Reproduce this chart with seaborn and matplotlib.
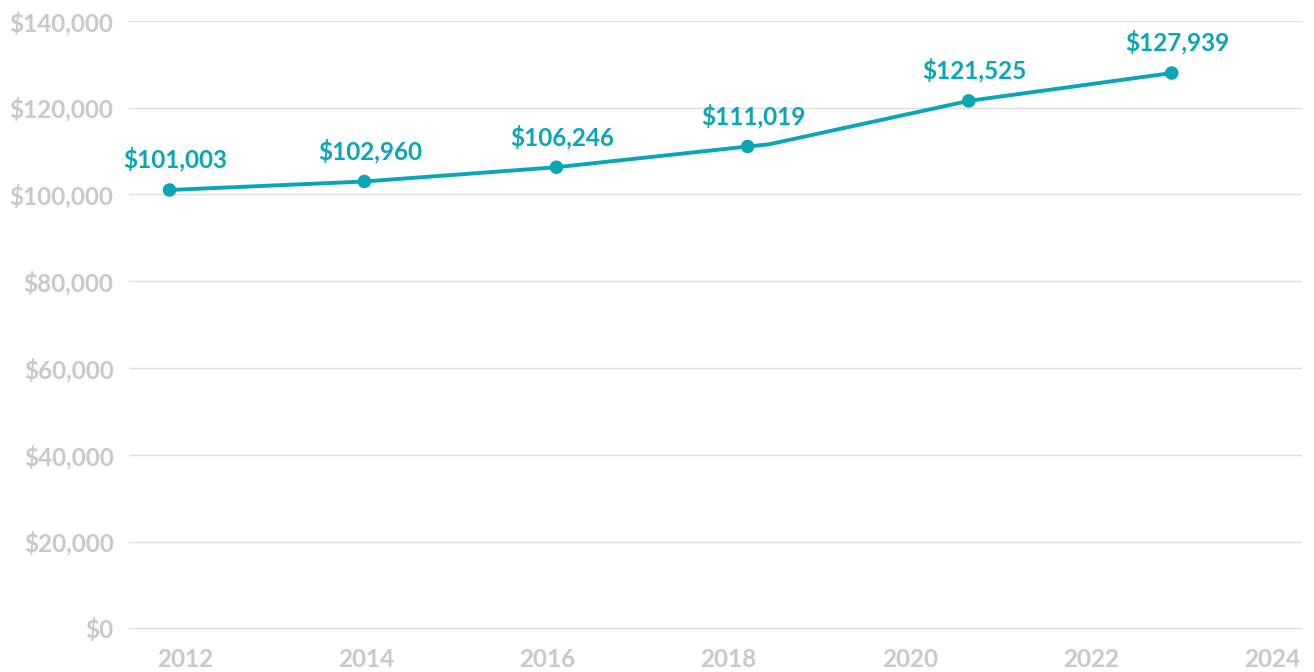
import matplotlib.pyplot as plt
import seaborn as sns
import pandas as pd

# data (decimal years)
years = [2011.83, 2013.98, 2016.10, 2018.21, 2018.44, 2020.65, 2022.89]
values = [101003, 102960, 106246, 111019, 111500, 121525, 127939]
marked = [True, True, True, True, False, True, True]
xticks = [2012, 2014, 2016, 2018, 2020, 2022, 2024]
yticks = [0, 20000, 40000, 60000, 80000, 100000, 120000, 140000]

teal = '#0aa6b6'
grey = '#c9c9c9'

df = pd.DataFrame({'year': years, 'value': values, 'marked': marked})
pts = df[df['marked']]

sns.set_theme(style='white')
plt.rcParams['font.family'] = ['Lato', 'DejaVu Sans']

fig = plt.figure(figsize=(13.14, 6.72), dpi=100)
ax = fig.add_axes([0.098, 0.0632, 0.893, 0.906])

sns.lineplot(data=df, x='year', y='value', color=teal, linewidth=2.8, ax=ax)
sns.scatterplot(data=pts, x='year', y='value', color=teal, s=95, edgecolor='none', zorder=5, ax=ax)

for x, v in zip(pts['year'], pts['value']):
    ax.annotate(f'${v:,}', (x, v), xytext=(4, 22), textcoords='offset points',
                ha='center', va='center', color=teal, fontsize=17.5, fontweight='bold')

ax.set_xlim(2011.38, 2024.33)
ax.set_ylim(-250, 140000)
ax.set_xticks(xticks)
ax.set_yticks(yticks)
ax.set_xticklabels([str(t) for t in xticks])
ax.set_yticklabels([f'${t:,}' for t in yticks])
ax.tick_params(axis='both', length=0, labelsize=17.5, labelcolor=grey)
ax.tick_params(axis='y', pad=11)
ax.tick_params(axis='x', pad=13)
for lab in ax.get_xticklabels() + ax.get_yticklabels():
    lab.set_fontweight('bold')

ax.grid(axis='y', color='#dedede', linewidth=1)
ax.grid(axis='x', visible=False)
sns.despine(ax=ax, left=True, bottom=True)
ax.set_xlabel('')
ax.set_ylabel('')

fig.savefig('out.png', dpi=100)
